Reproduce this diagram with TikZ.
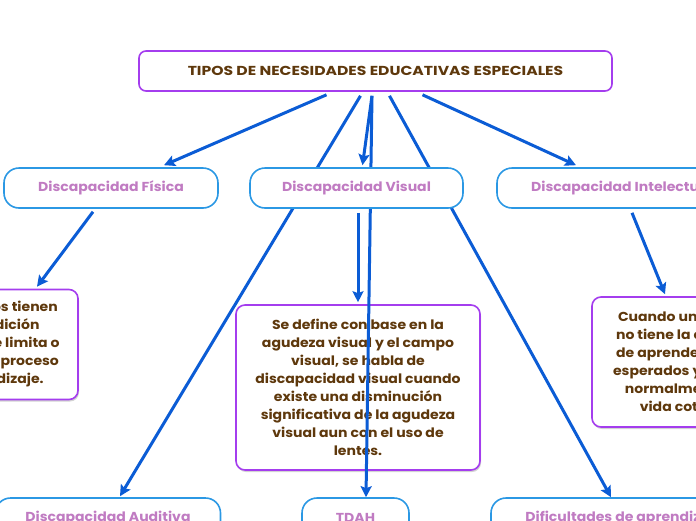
\documentclass[tikz,border=0pt]{standalone}
\usepackage{fontspec}
\setmainfont{Poppins}[FakeStretch=1.08]
\newfontfamily\titulo{Poppins}[FakeStretch=1.2]
\usetikzlibrary{arrows.meta,shadows}
\pgfdeclarelayer{fondo}
\pgfdeclarelayer{lineas}
\pgfsetlayers{fondo,lineas,main}
\definecolor{morado}{HTML}{A43DEE}
\definecolor{cafe}{HTML}{5E380C}
\definecolor{celeste}{HTML}{2B98E4}
\definecolor{lila}{HTML}{C07BC2}
\definecolor{azul}{HTML}{0B5CD5}
\tikzset{
  raiz/.style={draw=morado,line width=1.6pt,rounded corners=7pt,fill=white,
    minimum width=473pt,minimum height=40pt,text=cafe,
    font=\titulo\bfseries\fontsize{13}{16}\selectfont},
  tipo/.style={draw=celeste,line width=1.6pt,rounded corners=15pt,fill=white,
    minimum height=40pt,text=lila,font=\bfseries\fontsize{13}{16}\selectfont},
  definicion/.style={draw=morado,line width=1.6pt,rounded corners=9pt,fill=white,
    align=center,text=cafe,font=\bfseries\fontsize{13}{18}\selectfont,
    drop shadow={shadow xshift=1pt,shadow yshift=-2pt,opacity=.35}},
  rama/.style={azul,line width=3pt,-{Stealth[length=11pt,width=11pt,inset=2pt]}}
}
\begin{document}
\begin{tikzpicture}[x=1pt,y=-1pt]
	\useasboundingbox (0,0) rectangle (696,520);
	\clip (0,0) rectangle (696,520);
	% nodo central
	\node[raiz] (nee) at (375.5,71) {TIPOS DE NECESIDADES EDUCATIVAS ESPECIALES};
	% tipos
	\node[tipo,minimum width=214pt] (fisica) at (111,188) {Discapacidad Física};
	\node[tipo,minimum width=213pt] (visual) at (356.5,188) {Discapacidad Visual};
	\node[tipo,minimum width=250pt] (intelectual) at (622,188) {Discapacidad Intelectual};
	\node[tipo,minimum width=225pt] (auditiva) at (108,518) {Discapacidad Auditiva};
	\node[tipo,minimum width=107pt] (tdah) at (355.5,518) {TDAH};
	\node[tipo,minimum width=266pt] (dificultades) at (624,518) {Dificultades de aprendizaje};
	% definiciones (debajo de las lineas)
	\begin{pgfonlayer}{fondo}
		\node[definicion,minimum width=180pt,minimum height=110pt] (deffisica) at (-12,344.5)
			{Los alumnos tienen\\una condición\\física que le limita o\\dificulta su proceso\\de aprendizaje.};
		\node[definicion,minimum width=244pt,minimum height=165pt] (defvisual) at (358,387.5)
			{Se define con base en la\\agudeza visual y el campo\\visual, se habla de\\discapacidad visual cuando\\existe una disminución\\significativa de la agudeza\\visual aun con el uso de\\lentes.};
		\node[definicion,minimum width=204pt,minimum height=130pt] (defintelectual) at (694,362)
			{Cuando una persona\\no tiene la capacidad\\de aprender a niveles\\esperados y funcionar\\normalmente en la\\vida cotidiana.};
	\end{pgfonlayer}
	% flechas
	\begin{pgfonlayer}{lineas}
		\draw[rama] ([xshift=-49pt,yshift=-3pt]nee.south) -- ([xshift=53pt,yshift=2pt]fisica.north);
		\draw[rama] ([xshift=-3.5pt,yshift=-4pt]nee.south) -- ([xshift=6pt,yshift=2pt]visual.north);
		\draw[rama] ([xshift=-15pt,yshift=-4pt]nee.south) -- ([xshift=12pt,yshift=1pt]auditiva.north);
		\draw[rama] ([xshift=-3.5pt,yshift=-4pt]nee.south) -- ([xshift=10.5pt]tdah.north);
		\draw[rama] ([xshift=14pt,yshift=-4pt]nee.south) -- ([xshift=-13pt]dificultades.north);
		\draw[rama] ([xshift=47pt,yshift=-3pt]nee.south) -- ([xshift=-46pt,yshift=2pt]intelectual.north);
		\draw[rama] ([xshift=-18pt,yshift=-3pt]fisica.south) -- ([xshift=49pt,yshift=2pt]deffisica.north);
		\draw[rama] ([xshift=1.5pt,yshift=-4pt]visual.south) -- ([yshift=2pt]defvisual.north);
		\draw[rama] ([xshift=10pt,yshift=-4pt]intelectual.south) -- ([xshift=-29pt,yshift=2pt]defintelectual.north);
	\end{pgfonlayer}
\end{tikzpicture}
\end{document}
